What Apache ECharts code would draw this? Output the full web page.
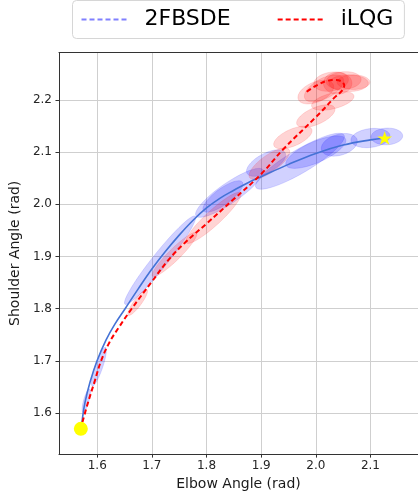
<!DOCTYPE html>
<html><head><meta charset="utf-8">
<script src="https://cdn.jsdelivr.net/npm/echarts@6/dist/echarts.min.js"></script>
<style>html,body{margin:0;padding:0;background:#fff}#c{width:418px;height:496px}</style>
</head><body><div id="c"></div>
<script>
// ---- data ----
const xTicks = [1.6, 1.7, 1.8, 1.9, 2.0, 2.1];
const yTicks = [1.6, 1.7, 1.8, 1.9, 2.0, 2.1, 2.2];
const seriesNames = ['2FBSDE', 'iLQG'];

const blueX = [1.572,1.5775,1.587,1.5995,1.616,1.632,1.651,1.675,1.700,1.725,1.750,1.775,1.800,1.825,1.850,1.875,1.900,1.950,2.000,2.050,2.100,2.126];
const blueY = [1.582,1.620,1.660,1.700,1.740,1.770,1.800,1.838,1.876,1.910,1.941,1.969,1.993,2.012,2.027,2.041,2.053,2.0765,2.0975,2.1135,2.1235,2.127];

const redX = [1.573,1.583,1.595,1.607,1.622,1.640,1.663,1.700,1.730,1.760,1.800,1.850,1.900,1.940,2.000,2.030,2.052,2.046,2.034,2.019,2.004,1.992,1.980];
const redY = [1.583,1.620,1.660,1.700,1.735,1.765,1.800,1.852,1.893,1.926,1.963,2.010,2.058,2.105,2.167,2.200,2.228,2.236,2.238,2.236,2.229,2.222,2.213];

// covariance ellipses: centre, half-axes, rotation (deg)
const blueEllCx  = [1.580,1.603,1.715,1.830,1.842,1.909,1.971,2.000,2.043,2.100,2.130];
const blueEllCy  = [1.624,1.689,1.893,2.015,2.022,2.079,2.0825,2.100,2.114,2.127,2.130];
const blueEllA   = [0.023,0.039,0.106,0.045,0.0755,0.040,0.095,0.060,0.034,0.036,0.029];
const blueEllB   = [0.005,0.007,0.014,0.015,0.019,0.018,0.022,0.020,0.020,0.018,0.016];
const blueEllAng = [75,72,52.7,38,36,30,32,25,18,8,3];

const redEllCx  = [1.674,1.7415,1.8126,1.915,1.958,2.000,2.031,2.015,2.000,2.028,2.051,2.069,2.040,2.060];
const redEllCy  = [1.812,1.904,1.974,2.078,2.128,2.169,2.198,2.222,2.215,2.235,2.237,2.234,2.232,2.232];
const redEllA   = [0.030,0.058,0.069,0.045,0.038,0.038,0.040,0.040,0.035,0.032,0.032,0.030,0.026,0.036];
const redEllB   = [0.007,0.011,0.014,0.016,0.016,0.016,0.015,0.019,0.019,0.018,0.017,0.014,0.021,0.016];
const redEllAng = [55,46,44,37,25,25,15,30,25,10,5,0,0,0];

const startPoint = [1.57, 1.57];
const targetPoint = [2.126, 2.127];

// ---- build ----
const zip = (xs, ys) => xs.map((x, i) => [x, ys[i]]);
const ellData = (cx, cy, a, b, ang) => cx.map((x, i) => [x, cy[i], a[i], b[i], ang[i]]);

function ellipseRenderer(fill, stroke) {
  return function (params, api) {
    const cx = api.value(0), cy = api.value(1), a = api.value(2), b = api.value(3);
    const ang = api.value(4) * Math.PI / 180;
    const pts = [];
    const N = 60;
    for (let i = 0; i < N; i++) {
      const t = i / N * 2 * Math.PI;
      const dx = a * Math.cos(t), dy = b * Math.sin(t);
      pts.push(api.coord([cx + dx * Math.cos(ang) - dy * Math.sin(ang),
                          cy + dx * Math.sin(ang) + dy * Math.cos(ang)]));
    }
    return { type: 'polygon', shape: { points: pts },
             style: { fill: fill, stroke: stroke, lineWidth: 1 } };
  };
}

const FONT = 'DejaVu Sans';
const starPath = 'path://M0,-100L22.45,-30.9L95.11,-30.9L36.33,11.8L58.78,80.9L0,38.2L-58.78,80.9L-36.33,11.8L-95.11,-30.9L-22.45,-30.9Z';
const hidden = { color: 'rgba(0,0,0,0)', borderWidth: 0, opacity: 0 };

const chart = echarts.init(document.getElementById('c'), null, { renderer: 'canvas' });
chart.setOption({
  animation: false,
  backgroundColor: '#ffffff',
  grid: { left: 57, top: 52.5, right: -8, bottom: 41, containLabel: false },
  legend: {
    left: 72.5, top: 0.5,
    itemWidth: 45, itemHeight: 20, itemGap: 46,
    padding: [8, 11, 8, 8],
    backgroundColor: '#ffffff', borderColor: '#d6d6d6', borderWidth: 1, borderRadius: 4,
    textStyle: { fontFamily: FONT, fontSize: 22, color: '#000', padding: [0, 0, 0, 13] },
    data: [
      { name: seriesNames[0], itemStyle: hidden, lineStyle: { color: '#8080ff', type: [5, 3], width: 2 } },
      { name: seriesNames[1], itemStyle: hidden, lineStyle: { color: '#ff0000', type: [5, 3], width: 2 } }
    ]
  },
  xAxis: [{
    type: 'value', min: 1.53, max: 2.187,
    name: 'Elbow Angle (rad)', nameLocation: 'middle', nameGap: 20,
    nameTextStyle: { fontFamily: FONT, fontSize: 14, color: '#1a1a1a' },
    axisLine: { show: true, onZero: false, lineStyle: { color: '#333', width: 1 } },
    axisTick: { show: true, length: 3.5, customValues: xTicks, lineStyle: { color: '#333' } },
    axisLabel: { customValues: xTicks, margin: 6, fontFamily: FONT, fontSize: 12, color: '#262626',
                 formatter: v => v.toFixed(1) },
    splitLine: { show: true, lineStyle: { color: '#cfcfcf', width: 1 } }
  }, {
    type: 'value', position: 'top', min: 1.53, max: 2.187,
    axisLine: { show: true, onZero: false, lineStyle: { color: '#333', width: 1 } },
    axisTick: { show: false }, axisLabel: { show: false }, splitLine: { show: false }
  }],
  yAxis: {
    type: 'value', min: 1.5216, max: 2.2908,
    name: 'Shoulder Angle (rad)', nameLocation: 'middle', nameGap: 32,
    nameTextStyle: { fontFamily: FONT, fontSize: 14, color: '#1a1a1a' },
    axisLine: { show: true, onZero: false, lineStyle: { color: '#333', width: 1 } },
    axisTick: { show: true, length: 3.5, customValues: yTicks, lineStyle: { color: '#333' } },
    axisLabel: { customValues: yTicks, margin: 7, fontFamily: FONT, fontSize: 12, color: '#262626',
                 formatter: v => v.toFixed(1) },
    splitLine: { show: true, lineStyle: { color: '#cfcfcf', width: 1 } }
  },
  series: [
    { type: 'custom', name: 'blueCov', z: 1, clip: true,
      renderItem: ellipseRenderer('rgba(0,0,255,0.18)', 'rgba(0,0,255,0.12)'),
      encode: { x: 0, y: 1 }, data: ellData(blueEllCx, blueEllCy, blueEllA, blueEllB, blueEllAng) },
    { type: 'custom', name: 'redCov', z: 1, clip: true,
      renderItem: ellipseRenderer('rgba(255,0,0,0.17)', 'rgba(255,0,0,0.12)'),
      encode: { x: 0, y: 1 }, data: ellData(redEllCx, redEllCy, redEllA, redEllB, redEllAng) },
    { type: 'line', name: seriesNames[0], z: 3, symbol: 'none', smooth: 0.4,
      lineStyle: { color: '#4472d6', width: 1.6 }, itemStyle: { color: '#8080ff' },
      data: zip(blueX, blueY) },
    { type: 'line', name: seriesNames[1], z: 4, symbol: 'none', smooth: 0.4,
      lineStyle: { color: '#ff0000', width: 2, type: [5, 3] }, itemStyle: { color: '#ff0000' },
      data: zip(redX, redY) },
    { type: 'scatter', name: 'start', z: 6, symbol: 'circle', symbolSize: 14,
      itemStyle: { color: '#ffff00', opacity: 1 }, data: [startPoint] },
    { type: 'scatter', name: 'target', z: 6, symbol: starPath, symbolSize: [15, 14], symbolKeepAspect: true,
      itemStyle: { color: '#ffff00', opacity: 1 }, data: [targetPoint] }
  ]
});
</script>
</body></html>
